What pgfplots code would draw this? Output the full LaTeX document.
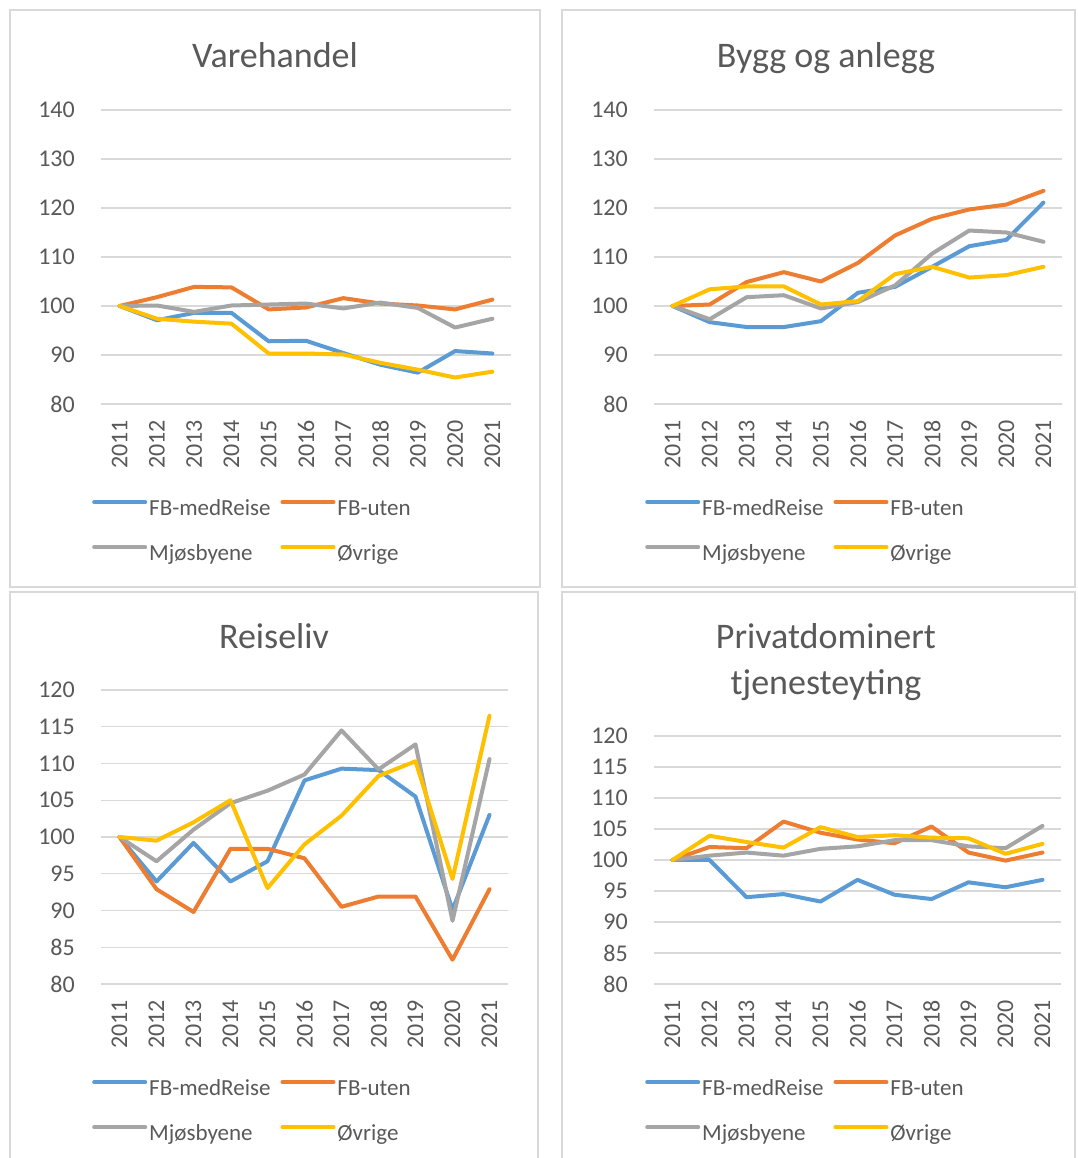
\documentclass[border=0pt]{standalone}
\usepackage{pgfplots}
\pgfplotsset{compat=1.18}
\usepackage{fontspec}
\setmainfont{Carlito}
\definecolor{cb}{HTML}{5B9BD5}
\definecolor{co}{HTML}{ED7D31}
\definecolor{cg}{HTML}{A5A5A5}
\definecolor{cy}{HTML}{FFC000}
\definecolor{tx}{HTML}{595959}
\definecolor{gr}{HTML}{D9D9D9}
\pgfplotsset{
 panel/.style={
  scale only axis,
  anchor=south west,
  xmin=-0.5, xmax=10.5,
  xtick={0,...,10},
  xticklabels={2011,2012,2013,2014,2015,2016,2017,2018,2019,2020,2021},
  axis line style={draw=none},
  major tick length=0pt,
  ymajorgrids, grid style={gr, line width=1.3pt},
  tick label style={font=\fontsize{24}{28}\selectfont, text=tx},
  /pgf/number format/assume math mode=true,
  yticklabel style={inner sep=0pt, anchor=east, xshift=-26pt},
  xticklabel style={rotate=90, anchor=east, inner sep=0pt},
  xticklabel shift=16pt,
  every axis plot/.append style={line width=4pt, line join=round, line cap=round, mark=none},
  legend columns=2,
  legend cell align=left,
  legend image code/.code={\draw[#1, line width=4pt, line cap=round] (-2pt,7pt) -- (49pt,7pt);},
  legend style={draw=none, fill=none, inner sep=0pt, font=\fontsize{23}{27}\selectfont, text=tx,
    at={(axis description cs:0,0)}, anchor=north west, xshift=-9pt, yshift=-92pt, row sep=19pt,
    nodes={inner sep=2pt, text height=17pt, text depth=5pt},
    /tikz/every even column/.append style={column sep=8pt}},
 }
}
\begin{document}
\begin{tikzpicture}
\useasboundingbox (0pt,0pt) rectangle (1077pt,1158pt);
\fill[white] (0pt,0pt) rectangle (1077pt,1158pt);
\draw[gr, line width=1.3pt] (10pt,1148pt) rectangle (540pt,571pt);
\draw[gr, line width=1.3pt] (562pt,1148pt) rectangle (1075pt,571pt);
\draw[gr, line width=1.3pt] (10pt,566pt) rectangle (538pt,-5pt);
\draw[gr, line width=1.3pt] (562pt,566pt) rectangle (1075pt,-5pt);

\node[font=\fontsize{36}{44}\selectfont, text=tx, anchor=base] at (275pt,1090pt) {Varehandel};
\node[font=\fontsize{36}{44}\selectfont, text=tx, anchor=base] at (826pt,1090pt) {Bygg og anlegg};
\node[font=\fontsize{36}{44}\selectfont, text=tx, anchor=base] at (274pt,509pt) {Reiseliv};
\node[font=\fontsize{36}{44}\selectfont, text=tx, anchor=base] at (826pt,509pt) {Privatdominert};
\node[font=\fontsize{36}{44}\selectfont, text=tx, anchor=base] at (826pt,463pt) {tjenesteyting};

% Panel 1: Varehandel
\begin{axis}[panel, at={(101pt,754pt)}, width=410pt, height=294pt,
  ymin=80, ymax=140, ytick={80,90,...,140}]
\addplot[cb] coordinates {(0,100) (1,97.1) (2,98.6) (3,98.6) (4,92.8) (5,92.9) (6,90.4) (7,88.0) (8,86.4) (9,90.8) (10,90.3)};
\addplot[co] coordinates {(0,100) (1,101.8) (2,103.9) (3,103.8) (4,99.3) (5,99.7) (6,101.6) (7,100.5) (8,100.1) (9,99.3) (10,101.3)};
\addplot[cg] coordinates {(0,100) (1,100.1) (2,98.8) (3,100.1) (4,100.3) (5,100.5) (6,99.5) (7,100.7) (8,99.6) (9,95.6) (10,97.4)};
\addplot[cy] coordinates {(0,100) (1,97.4) (2,96.8) (3,96.4) (4,90.3) (5,90.3) (6,90.1) (7,88.4) (8,87.0) (9,85.4) (10,86.6)};
\legend{FB-medReise,FB-uten,Mjøsbyene,Øvrige}
\end{axis}

% Panel 2: Bygg og anlegg
\begin{axis}[panel, at={(654pt,754pt)}, width=408pt, height=294pt,
  ymin=80, ymax=140, ytick={80,90,...,140}]
\addplot[cb] coordinates {(0,100) (1,96.7) (2,95.7) (3,95.7) (4,96.9) (5,102.7) (6,103.9) (7,108.0) (8,112.2) (9,113.5) (10,121.1)};
\addplot[co] coordinates {(0,100) (1,100.3) (2,104.9) (3,106.9) (4,105.0) (5,108.8) (6,114.4) (7,117.8) (8,119.7) (9,120.7) (10,123.5)};
\addplot[cg] coordinates {(0,100) (1,97.3) (2,101.8) (3,102.2) (4,99.5) (5,100.8) (6,104.2) (7,110.7) (8,115.4) (9,115.0) (10,113.1)};
\addplot[cy] coordinates {(0,100) (1,103.4) (2,104.0) (3,104.0) (4,100.3) (5,101.0) (6,106.5) (7,108.0) (8,105.8) (9,106.3) (10,108.0)};
\legend{FB-medReise,FB-uten,Mjøsbyene,Øvrige}
\end{axis}

% Panel 3: Reiseliv
\begin{axis}[panel, at={(101pt,174pt)}, width=407pt, height=294pt,
  ymin=80, ymax=120, ytick={80,85,...,120}]
\addplot[cb] coordinates {(0,100) (1,93.95) (2,99.2) (3,93.95) (4,96.7) (5,107.7) (6,109.3) (7,109.1) (8,105.5) (9,90.1) (10,103.0)};
\addplot[co] coordinates {(0,100) (1,92.9) (2,89.8) (3,98.4) (4,98.4) (5,97.1) (6,90.5) (7,91.9) (8,91.9) (9,83.3) (10,92.9)};
\addplot[cg] coordinates {(0,100) (1,96.7) (2,101.0) (3,104.6) (4,106.3) (5,108.5) (6,114.5) (7,109.2) (8,112.6) (9,88.6) (10,110.6)};
\addplot[cy] coordinates {(0,100) (1,99.5) (2,102.0) (3,105.0) (4,93.05) (5,99.0) (6,102.9) (7,108.3) (8,110.3) (9,94.3) (10,116.5)};
\legend{FB-medReise,FB-uten,Mjøsbyene,Øvrige}
\end{axis}

% Panel 4: Privatdominert tjenesteyting
\begin{axis}[panel, at={(654pt,174pt)}, width=407pt, height=248pt,
  ymin=80, ymax=120, ytick={80,85,...,120}]
\addplot[cb] coordinates {(0,100) (1,100) (2,94.0) (3,94.5) (4,93.3) (5,96.8) (6,94.4) (7,93.7) (8,96.4) (9,95.6) (10,96.8)};
\addplot[co] coordinates {(0,100) (1,102.1) (2,101.9) (3,106.2) (4,104.4) (5,103.3) (6,102.7) (7,105.4) (8,101.2) (9,99.9) (10,101.2)};
\addplot[cg] coordinates {(0,100) (1,100.7) (2,101.2) (3,100.7) (4,101.8) (5,102.2) (6,103.2) (7,103.2) (8,102.2) (9,101.9) (10,105.5)};
\addplot[cy] coordinates {(0,100) (1,103.9) (2,102.9) (3,102.0) (4,105.3) (5,103.7) (6,104.0) (7,103.6) (8,103.5) (9,101.0) (10,102.6)};
\legend{FB-medReise,FB-uten,Mjøsbyene,Øvrige}
\end{axis}
\end{tikzpicture}
\end{document}
